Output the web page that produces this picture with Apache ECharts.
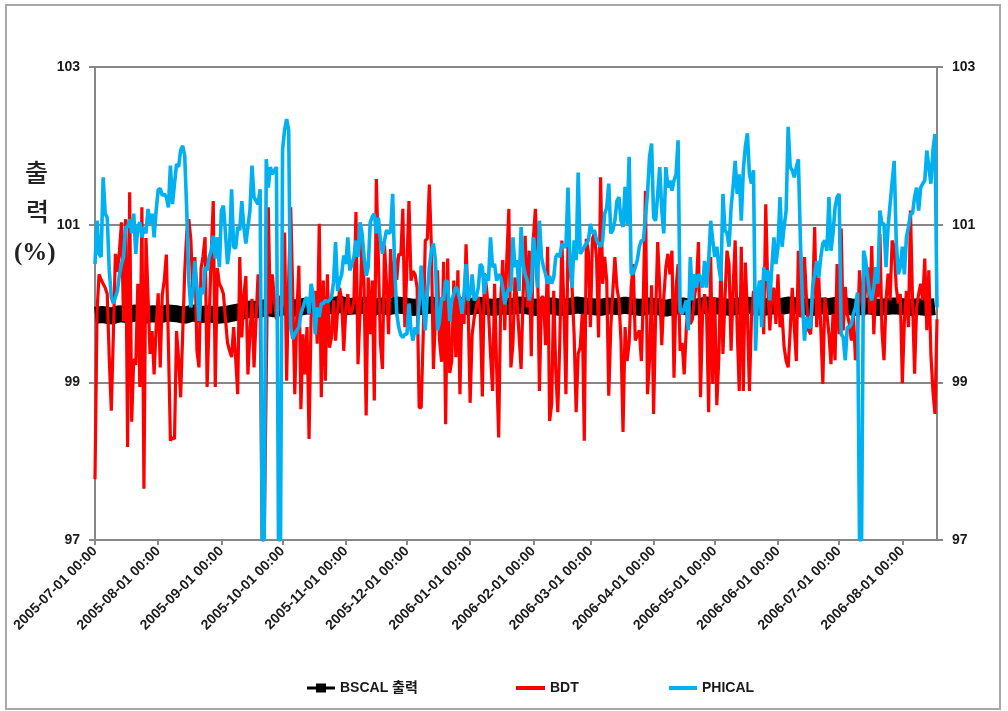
<!DOCTYPE html>
<html>
<head>
<meta charset="utf-8">
<script src="https://cdn.jsdelivr.net/npm/echarts@6/dist/echarts.min.js"></script>
<style>
  html, body { margin: 0; padding: 0; background: #ffffff; }
  #chart { width: 1008px; height: 711px; }
</style>
</head>
<body>
<div id="chart"></div>
<script>
// Series names (legend order)
const seriesNames = ['BSCAL 출력', 'BDT', 'PHICAL'];

// Date range of the daily record
const firstDay = '2005-07-01';
const lastDay = '2006-08-18';

// Month ticks on the date axis
const monthTicks = [
  '2005-07-01', '2005-08-01', '2005-09-01', '2005-10-01', '2005-11-01', '2005-12-01',
  '2006-01-01', '2006-02-01', '2006-03-01', '2006-04-01', '2006-05-01', '2006-06-01',
  '2006-07-01', '2006-08-01'
];

// BSCAL output, one reading every 4 days (%)
const bscalStepDays = 4;
const bscal = [
  99.85, 99.86, 99.84, 99.87, 99.86, 99.88, 99.85, 99.87, 99.86, 99.88,
  99.87, 99.85, 99.88, 99.86, 99.87, 99.85, 99.86, 99.88,
  99.90, 99.93, 99.92, 99.95, 99.93, 99.96, 99.94, 99.95,
  99.97, 99.96, 99.98, 99.97, 99.99, 99.96, 99.97, 99.98, 99.95, 99.97,
  99.96, 99.98, 99.97, 99.95, 99.96, 99.98, 99.97, 99.96, 99.94, 99.97,
  99.96, 99.98, 99.96, 99.95, 99.97, 99.96, 99.98, 99.97, 99.95, 99.96,
  99.97, 99.95, 99.96, 99.98, 99.97, 99.96, 99.95, 99.97, 99.96, 99.98,
  99.96, 99.95, 99.97, 99.96, 99.94, 99.96, 99.97, 99.95, 99.96, 99.98,
  99.97, 99.96, 99.95, 99.97, 99.98, 99.96, 99.95, 99.97, 99.96, 99.98,
  99.97, 99.96, 99.95, 99.97, 99.96, 99.98, 99.97, 99.95, 99.96, 99.97,
  99.95, 99.96, 99.97, 99.96, 99.95, 99.96, 99.95, 99.96
];

// BDT, daily (%)
const bdt = [
  97.77, 99.9, 100.37, 100.3, 100.25, 100.2, 100.12, 99.3, 98.64, 99.6,
  100.63, 100.4, 100.67, 101.03, 99.78, 101.07, 98.18, 101.41, 98.5, 99.3,
  99.22, 100.25, 98.94, 101.22, 97.65, 100.83, 100.1, 99.36, 99.65, 99.1,
  99.7, 100.13, 99.19, 100.11, 100.3, 100.62, 99.5, 98.26, 98.3, 98.28,
  99.65, 99.3, 98.81, 99.6, 100.4, 100.9, 101.07, 100.82, 100.14, 100.59,
  99.4, 99.19, 100.44, 100.6, 100.84, 98.94, 99.8, 100.6, 101.3, 98.94,
  100.45, 100.25, 100.2, 100.12, 99.8, 99.5, 99.4, 99.32, 99.7, 99.3,
  98.85, 100.59, 99.57, 100.1, 100.35, 99.1, 99.61, 100.06, 99.19, 99.8,
  100.37, 99.95, 97.0, 97.0, 99.06, 101.22, 99.87, 100.37, 100.04, 99.8,
  100.1, 99.9, 100.0, 100.9, 99.02, 100.3, 101.22, 100.12, 98.85, 99.87,
  100.48, 98.66, 99.61, 99.1, 99.7, 98.28, 99.83, 99.9, 100.16, 99.49,
  101.01, 98.81, 100.29, 99.02, 100.37, 99.44, 99.57, 100.04, 99.53, 99.9,
  100.2, 100.04, 99.4, 99.91, 100.12, 99.87, 99.9, 100.04, 101.16, 99.23,
  99.9, 100.86, 100.2, 98.58, 100.33, 99.61, 100.29, 98.77, 101.58, 100.56,
  99.5, 99.17, 100.74, 100.24, 99.61, 100.69, 100.08, 100.59, 100.3, 100.63,
  100.61, 101.2, 99.7, 100.5, 101.3, 100.29, 100.41, 100.37, 100.2, 98.68,
  98.68, 99.61, 100.8, 100.82, 101.51, 100.72, 99.17, 99.86, 100.42, 99.53,
  99.26, 100.53, 98.47, 100.57, 99.12, 99.27, 100.29, 99.32, 100.42, 98.85,
  100.08, 99.74, 100.75, 99.99, 98.74, 99.61, 99.82, 99.95, 100.08, 99.87,
  98.82, 100.38, 100.21, 99.91, 99.36, 98.89, 100.25, 99.19, 98.3, 100.04,
  100.55, 99.66, 100.57, 101.2, 99.19, 99.49, 100.33, 100.04, 99.6, 99.17,
  100.12, 100.86, 99.95, 100.67, 99.33, 100.82, 101.2, 100.63, 98.89, 100.08,
  100.08, 99.47, 100.72, 98.51, 98.72, 100.16, 99.15, 98.62, 99.53, 100.8,
  99.95, 98.85, 100.76, 100.46, 100.21, 99.61, 98.62, 99.36, 99.45, 99.87,
  98.26, 100.82, 100.65, 99.7, 100.82, 100.89, 100.57, 99.57, 101.6, 100.25,
  100.59, 100.29, 98.83, 99.7, 100.16, 100.59, 100.2, 100.04, 99.53, 98.37,
  99.7, 99.27, 99.5, 100.21, 100.5, 99.53, 99.6, 99.66, 99.27, 100.12,
  101.43, 98.85, 99.3, 100.23, 98.6, 99.87, 100.78, 100.2, 99.47, 100.08,
  100.46, 100.63, 100.37, 100.67, 99.06, 100.2, 100.5, 99.4, 99.5, 99.1,
  99.66, 100.04, 99.74, 99.8, 100.08, 100.25, 100.78, 98.81, 99.87, 100.12,
  99.87, 98.62, 100.59, 98.98, 100.08, 98.71, 99.32, 100.5, 99.36, 100.06,
  100.67, 100.5, 99.4, 100.2, 100.8, 99.66, 98.89, 100.72, 98.89, 100.52,
  99.87, 98.89, 99.83, 100.16, 99.83, 100.08, 100.16, 100.29, 99.61, 101.26,
  100.21, 99.66, 100.12, 100.2, 99.74, 100.37, 99.7, 99.87, 99.45, 99.27,
  99.19, 99.66, 100.2, 99.7, 99.27, 100.67, 99.83, 99.87, 100.59, 100.04,
  99.66, 99.61, 100.04, 100.97, 99.7, 100.33, 99.7, 98.98, 100.08, 99.87,
  99.61, 99.23, 99.87, 99.28, 100.5, 99.61, 100.95, 99.66, 100.21, 99.87,
  99.74, 99.53, 99.87, 99.28, 99.61, 100.42, 100.04, 99.83, 100.21, 100.46,
  99.87, 100.73, 99.61, 100.25, 100.08, 100.88, 99.66, 99.28, 100.04, 100.38,
  100.04, 100.8, 100.72, 100.21, 100.0, 100.12, 98.99, 99.78, 100.16, 99.7,
  101.18, 100.04, 99.11, 99.95, 100.12, 100.25, 100.04, 100.57, 99.66, 100.42,
  99.36, 98.89, 98.6, 99.8
];

// PHICAL, daily (%)
const phical = [
  100.5, 101.05, 100.63, 100.59, 101.6, 101.14, 101.09, 100.42, 100.08, 100.0,
  100.08, 100.16, 100.37, 100.5, 100.59, 100.97, 100.97, 101.07, 100.89, 101.14,
  100.63, 100.97, 101.03, 100.84, 100.97, 100.89, 101.2, 101.01, 101.14, 100.84,
  101.18, 101.44, 101.46, 101.37, 101.39, 101.35, 101.22, 101.75, 101.26, 101.52,
  101.77, 101.73, 101.94, 102.0, 101.88, 101.18, 100.29, 99.95, 100.16, 100.54,
  100.2, 99.78, 100.2, 100.12, 100.46, 100.42, 100.59, 100.67, 100.86, 100.57,
  100.84, 100.46, 101.18, 101.24, 100.89, 100.5, 100.72, 101.45, 100.72, 100.7,
  100.97, 100.93, 101.3, 100.97, 100.76, 100.97, 101.18, 101.75, 101.35, 101.3,
  101.26, 101.45, 97.0, 97.0, 101.83, 101.47, 101.73, 101.64, 101.69, 101.73,
  97.0, 97.0, 101.95, 102.2, 102.34, 102.2, 99.7, 99.55, 99.61, 99.66,
  99.7, 99.87, 99.95, 100.04, 100.08, 99.87, 100.25, 100.12, 99.61, 99.95,
  99.83, 100.0, 100.0, 100.04, 100.02, 100.04, 100.08, 100.27, 100.78, 100.16,
  100.29, 100.37, 100.61, 100.5, 100.84, 100.42, 100.5, 100.59, 100.8, 100.59,
  101.03, 100.89, 100.59, 100.35, 100.46, 101.03, 101.1, 101.14, 100.89, 101.09,
  100.8, 100.63, 100.8, 100.93, 100.89, 100.91, 101.39, 100.46, 99.87, 99.7,
  99.6, 99.57, 99.61, 99.61, 100.0, 99.66, 99.53, 99.7, 99.61, 100.0,
  100.48, 100.04, 99.66, 100.12, 100.46, 100.67, 100.76, 100.55, 99.66, 99.78,
  100.08, 100.04, 100.29, 100.27, 99.78, 100.04, 100.12, 100.21, 100.16, 100.04,
  99.87, 100.12, 100.5, 100.04, 100.12, 100.37, 100.04, 100.08, 100.2, 100.5,
  100.46, 100.12, 100.37, 100.29, 100.84, 100.46, 100.5, 100.29, 100.37, 100.33,
  100.2, 99.99, 100.12, 100.2, 100.16, 100.84, 100.46, 100.55, 100.16, 100.97,
  100.5, 100.37, 100.29, 100.04, 100.16, 100.84, 100.59, 100.2, 101.05, 100.59,
  100.46, 100.37, 100.25, 100.35, 100.25, 100.33, 100.59, 100.63, 100.59, 100.76,
  100.72, 100.72, 101.47, 100.5, 100.2, 100.8, 100.55, 101.66, 100.63, 100.67,
  100.72, 100.76, 100.8, 101.01, 100.89, 100.93, 100.8, 100.76, 100.72, 100.8,
  101.14, 101.22, 101.52, 100.89, 100.93, 101.05, 101.3, 101.35, 101.05, 100.97,
  101.48, 101.01, 101.86, 100.38, 100.38, 100.46, 100.55, 100.72, 100.8, 100.8,
  101.1, 101.39, 101.86, 102.03, 101.09, 101.05, 101.39, 101.73, 101.18, 100.89,
  101.73, 101.47, 101.56, 101.43, 101.56, 101.64, 102.07, 99.91, 99.87, 99.95,
  100.04, 99.66, 100.59, 100.04, 100.37, 100.2, 100.37, 100.33, 100.2, 100.54,
  100.2, 100.54, 101.05, 100.8, 100.59, 100.72, 100.46, 100.29, 101.39, 100.93,
  100.89, 100.72, 101.22, 101.48, 101.81, 101.39, 101.64, 101.05, 101.69, 101.99,
  102.16, 101.64, 101.52, 101.69, 99.4, 100.12, 100.29, 99.7, 100.46, 100.29,
  100.42, 100.04, 100.46, 100.84, 100.5, 100.72, 101.35, 100.72, 100.97, 101.18,
  102.24, 101.73, 101.69, 101.6, 101.73, 101.83, 100.8, 100.04, 99.53, 99.83,
  99.7, 99.7, 100.21, 100.37, 100.54, 100.33, 100.59, 100.76, 100.8, 100.67,
  101.35, 100.67, 100.89, 101.22, 101.35, 101.39, 99.61, 99.57, 99.28, 99.7,
  99.7, 99.74, 99.87, 99.95, 100.14, 97.0, 97.0, 100.67, 100.55, 100.33,
  100.12, 100.04, 100.21, 100.46, 100.25, 101.18, 101.01, 101.01, 100.46, 100.97,
  101.26, 101.54, 101.81, 100.8, 100.37, 100.46, 100.72, 100.37, 100.84, 100.97,
  101.14, 101.14, 101.35, 101.47, 101.18, 101.47, 101.52, 101.56, 101.94, 101.73,
  101.52, 101.94, 102.15, 99.95
];

// Dates are placed on a linear axis counted in days from firstDay
const DAY_MS = 86400000;
const toTime = s => Date.UTC(+s.slice(0, 4), +s.slice(5, 7) - 1, +s.slice(8, 10));
const t0 = toTime(firstDay);
const toDay = s => Math.round((toTime(s) - t0) / DAY_MS);
const tickDays = monthTicks.map(toDay);
const pad2 = n => String(n).padStart(2, '0');
const fmtTick = v => {
  const d = new Date(t0 + v * DAY_MS);
  return d.getUTCFullYear() + '-' + pad2(d.getUTCMonth() + 1) + '-' + pad2(d.getUTCDate()) + ' 00:00';
};
const daily = arr => arr.map((v, i) => [i, v]);

const AXIS_GRAY = '#878787';
const TEXT = '#1a1a1a';
const LATIN = '"Liberation Sans", Arial, sans-serif';
const LEGEND_FONT = '"Liberation Sans", "Noto Sans CJK KR", sans-serif';

const yAxisCommon = {
  type: 'value', min: 97, max: 103, interval: 2,
  axisLine: { show: true, lineStyle: { color: AXIS_GRAY, width: 2 } },
  axisTick: { show: true, length: 6, lineStyle: { color: AXIS_GRAY, width: 2 } },
  axisLabel: { margin: 15, fontSize: 14, fontWeight: 'bold', fontFamily: LATIN, color: TEXT }
};

const legendText = { fontSize: 14, fontWeight: 'bold', fontFamily: LEGEND_FONT, color: TEXT };

const chart = echarts.init(document.getElementById('chart'), null, { renderer: 'canvas' });
chart.setOption({
  animation: false,
  backgroundColor: '#ffffff',
  grid: { left: 95, right: 71, top: 67, bottom: 171, containLabel: false },
  xAxis: {
    type: 'value',
    min: 0,
    max: toDay(lastDay),
    axisLine: { show: true, onZero: false, lineStyle: { color: AXIS_GRAY, width: 2 } },
    axisTick: { show: true, length: 5, customValues: tickDays, lineStyle: { color: AXIS_GRAY, width: 2 } },
    axisLabel: {
      customValues: tickDays, formatter: fmtTick, rotate: 45, margin: 9,
      fontSize: 14, fontWeight: 'bold', fontFamily: LATIN, color: TEXT, hideOverlap: false
    },
    splitLine: { show: false },
    minorTick: { show: false }
  },
  yAxis: [
    Object.assign({}, yAxisCommon, {
      position: 'left',
      splitLine: { show: true, lineStyle: { color: AXIS_GRAY, width: 2 } }
    }),
    Object.assign({}, yAxisCommon, {
      position: 'right',
      splitLine: { show: false }
    })
  ],
  legend: [
    {
      left: 302, top: 676, selectedMode: false, itemGap: 0, itemWidth: 28, itemHeight: 10,
      data: [{ name: seriesNames[0], icon: 'path://M0,4h28v3h-28zM9,1h10v9h-10z' }],
      textStyle: legendText
    },
    {
      left: 511, top: 676, selectedMode: false, itemGap: 0, itemWidth: 29, itemHeight: 4,
      data: [{ name: seriesNames[1], icon: 'rect' }],
      textStyle: legendText
    },
    {
      left: 664, top: 676, selectedMode: false, itemGap: 0, itemWidth: 28, itemHeight: 4,
      data: [{ name: seriesNames[2], icon: 'rect' }],
      textStyle: legendText
    }
  ],
  graphic: [
    {
      type: 'rect', silent: true, z: -1,
      shape: { x: 6, y: 5, width: 994, height: 704 },
      style: { fill: 'none', stroke: '#a8a8a8', lineWidth: 2 }
    },
    {
      type: 'text', left: 25, top: 160,
      style: { text: '출', font: '500 25px "Noto Sans CJK KR"', fill: '#222222' }
    },
    {
      type: 'text', left: 26, top: 199,
      style: { text: '력', font: '500 25px "Noto Sans CJK KR"', fill: '#222222' }
    },
    {
      type: 'text', left: 14, top: 241,
      style: { text: '(%)', font: 'bold 25px "Liberation Serif"', fill: '#222222' }
    }
  ],
  series: [
    {
      name: seriesNames[0], type: 'line', yAxisIndex: 0,
      data: bscal.map((v, i) => [i * bscalStepDays, v]),
      symbol: 'none', showSymbol: false, color: '#000000',
      lineStyle: { color: '#000000', width: 17 }, z: 2
    },
    {
      name: seriesNames[1], type: 'line', yAxisIndex: 0,
      data: daily(bdt),
      symbol: 'none', showSymbol: false, color: '#ff0000',
      lineStyle: { color: '#ff0000', width: 3.2 }, z: 3
    },
    {
      name: seriesNames[2], type: 'line', yAxisIndex: 0,
      data: daily(phical),
      symbol: 'none', showSymbol: false, color: '#00b0f0',
      lineStyle: { color: '#00b0f0', width: 3.6 }, z: 4
    }
  ]
});
</script>
</body>
</html>
